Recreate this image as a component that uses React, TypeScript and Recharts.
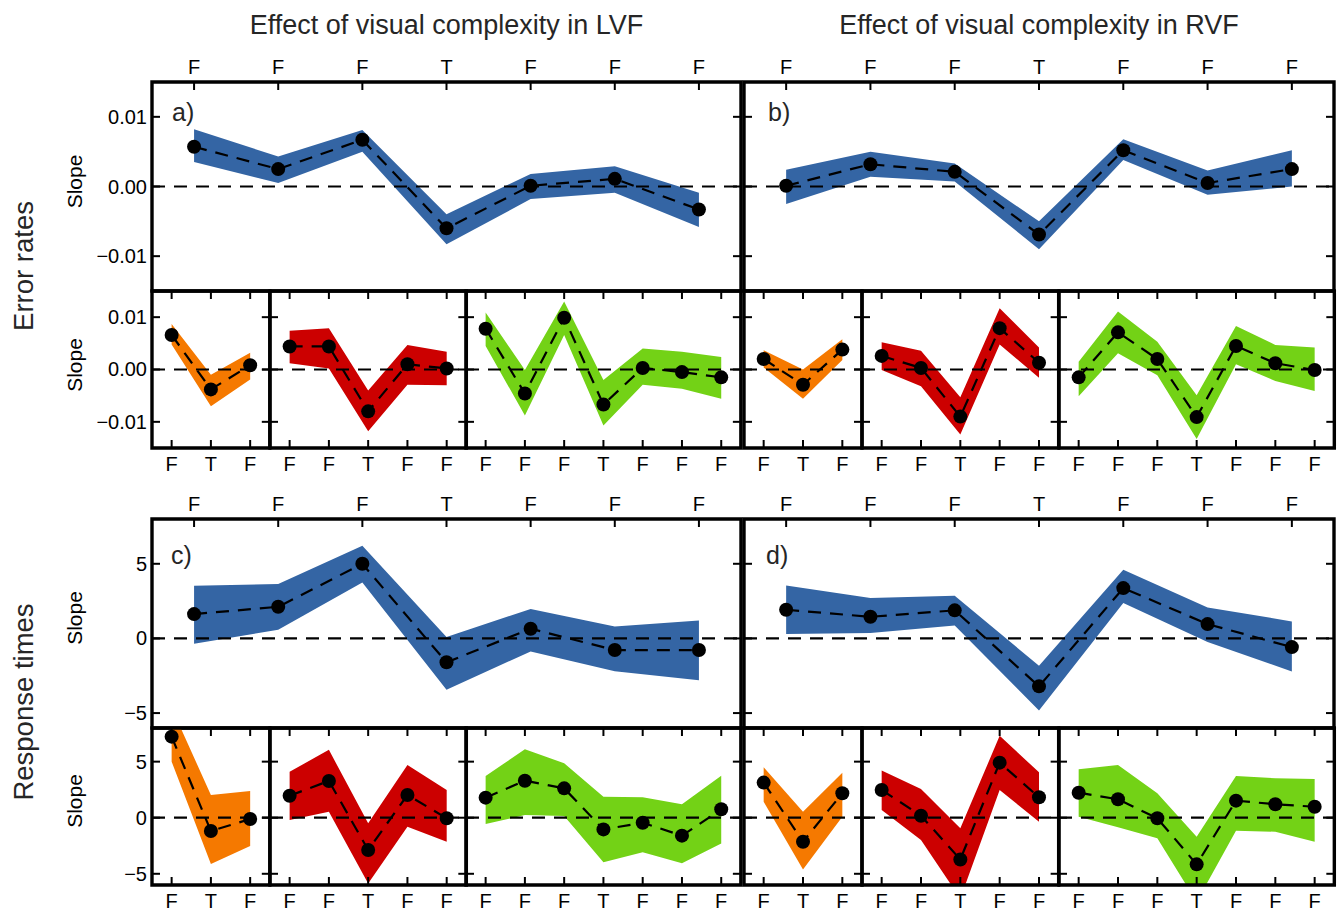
import React from 'react';
import { ComposedChart, Area, Line, XAxis, YAxis, ReferenceLine, ReferenceArea } from 'recharts';

const FONT = "'Liberation Sans', Arial, Helvetica, sans-serif";

const BLUE = '#3465a4';
const ORANGE = '#f57900';
const RED = '#cc0000';
const GREEN = '#73d216';

// tick labels (F / T)
const labels7 = ['F', 'F', 'F', 'T', 'F', 'F', 'F'];
const labels3 = ['F', 'T', 'F'];
const labels5 = ['F', 'F', 'T', 'F', 'F'];

// a) error rates, LVF
const errLvfMean = [0.0057, 0.0025, 0.0067, -0.006, 0.0001, 0.0011, -0.0033];
const errLvfLo = [0.0035, 0.0005, 0.005, -0.0083, -0.0018, -0.0009, -0.0058];
const errLvfHi = [0.0082, 0.0043, 0.0081, -0.004, 0.0018, 0.0029, -0.0009];

// b) error rates, RVF
const errRvfMean = [0.0001, 0.0032, 0.0021, -0.0069, 0.0052, 0.0005, 0.0025];
const errRvfLo = [-0.0025, 0.0014, 0.0007, -0.009, 0.0038, -0.0012, 0.0];
const errRvfHi = [0.0024, 0.005, 0.0033, -0.005, 0.0068, 0.0023, 0.0052];

// error rates, small panels LVF
const errLvfOrMean = [0.0066, -0.0038, 0.0008];
const errLvfOrLo = [0.0048, -0.007, -0.0019];
const errLvfOrHi = [0.0087, -0.001, 0.0032];
const errLvfRdMean = [0.0044, 0.0044, -0.008, 0.001, 0.0002];
const errLvfRdLo = [0.0012, 0.0002, -0.0118, -0.0029, -0.003];
const errLvfRdHi = [0.0074, 0.0079, -0.004, 0.0047, 0.0034];
const errLvfGrMean = [0.0078, -0.0046, 0.0099, -0.0067, 0.0003, -0.0005, -0.0015];
const errLvfGrLo = [0.0045, -0.0088, 0.0066, -0.0107, -0.0029, -0.0037, -0.0056];
const errLvfGrHi = [0.0109, -0.0001, 0.013, -0.002, 0.004, 0.0034, 0.0024];

// error rates, small panels RVF
const errRvfOrMean = [0.002, -0.0029, 0.0038];
const errRvfOrLo = [0.0004, -0.0056, 0.0018];
const errRvfOrHi = [0.0037, 0.0, 0.0058];
const errRvfRdMean = [0.0026, 0.0003, -0.009, 0.0079, 0.0013];
const errRvfRdLo = [-0.0001, -0.0032, -0.0124, 0.0048, -0.0016];
const errRvfRdHi = [0.0052, 0.0036, -0.0053, 0.0117, 0.0042];
const errRvfGrMean = [-0.0015, 0.0071, 0.002, -0.0091, 0.0045, 0.0012, -0.0001];
const errRvfGrLo = [-0.0051, 0.0031, -0.0011, -0.0133, 0.001, -0.0022, -0.0041];
const errRvfGrHi = [0.0015, 0.0111, 0.0053, -0.0049, 0.0083, 0.0047, 0.0042];

// c) response times, LVF
const rtLvfMean = [1.63, 2.12, 5.0, -1.6, 0.65, -0.78, -0.78];
const rtLvfLo = [-0.35, 0.58, 3.75, -3.43, -0.87, -2.2, -2.8];
const rtLvfHi = [3.53, 3.64, 6.2, 0.1, 1.97, 0.8, 1.2];

// d) response times, RVF
const rtRvfMean = [1.92, 1.45, 1.88, -3.21, 3.37, 0.96, -0.58];
const rtRvfLo = [0.3, 0.36, 0.87, -4.82, 2.37, -0.24, -2.21];
const rtRvfHi = [3.55, 2.7, 2.86, -1.83, 4.6, 2.08, 1.14];

// response times, small panels LVF
const rtLvfOrMean = [7.23, -1.19, -0.12];
const rtLvfOrLo = [5.0, -4.13, -2.53];
const rtLvfOrHi = [9.8, 2.03, 2.38];
const rtLvfRdMean = [1.96, 3.28, -2.88, 2.03, -0.05];
const rtLvfRdLo = [-0.2, 0.54, -5.86, -0.8, -2.14];
const rtLvfRdHi = [4.1, 6.05, -0.5, 4.7, 2.47];
const rtLvfGrMean = [1.79, 3.3, 2.62, -1.04, -0.45, -1.6, 0.75];
const rtLvfGrLo = [-0.56, 0.24, 0.15, -3.98, -3.09, -4.07, -2.29];
const rtLvfGrHi = [3.72, 6.1, 4.85, 1.88, 1.82, 1.2, 3.75];

// response times, small panels RVF
const rtRvfOrMean = [3.13, -2.14, 2.18];
const rtRvfOrLo = [1.43, -4.61, 0.09];
const rtRvfOrHi = [4.5, 0.54, 4.02];
const rtRvfRdMean = [2.47, 0.18, -3.72, 4.91, 1.82];
const rtRvfRdLo = [0.69, -1.99, -7.2, 2.47, -0.36];
const rtRvfRdHi = [4.2, 2.56, -0.95, 7.3, 4.05];
const rtRvfGrMean = [2.23, 1.64, -0.05, -4.16, 1.52, 1.2, 0.98];
const rtRvfGrLo = [0.09, -0.86, -1.84, -7.5, -1.16, -1.25, -2.14];
const rtRvfGrHi = [4.32, 4.7, 2.18, -1.7, 3.72, 3.52, 3.46];

const errDomain: [number, number] = [-0.015, 0.015];
const errTicks = [-0.01, 0, 0.01];
const rtDomain: [number, number] = [-6, 8];
const rtTicks = [-5, 0, 5];

// layout (page pixels)
const LVF: [number, number] = [152, 741];
const RVF: [number, number] = [744, 1334];
const ERR_BIG: [number, number] = [82, 291];
const ERR_SMALL: [number, number] = [291, 448];
const RT_BIG: [number, number] = [519, 728];
const RT_SMALL: [number, number] = [728, 885];

const PAD = 80;
const AX = 30;
const TICK = 8;

const fmtErr = (v: number) => (v === 0 ? '0.00' : (v < 0 ? '\u2212' : '') + Math.abs(v).toFixed(2));
const fmtRt = (v: number) => (v === 0 ? '0' : (v < 0 ? '\u2212' : '') + String(Math.abs(v)));

function split(x: [number, number]) {
  const u = (x[1] - x[0]) / 15;
  return [x[0], x[0] + 3 * u, x[0] + 8 * u, x[1]];
}

type PanelProps = {
  xs: [number, number];
  ys: [number, number];
  labels: string[];
  mean: number[];
  lo: number[];
  hi: number[];
  color: string;
  yDomain: [number, number];
  yTicks: number[];
  yFmt: (v: number) => string;
  showY: boolean;
  big: boolean;
};

function Panel({ xs, ys, labels, mean, lo, hi, color, yDomain, yTicks, yFmt, showY, big }: PanelProps) {
  const w = xs[1] - xs[0];
  const h = ys[1] - ys[0];
  const n = mean.length;
  const data = mean.map((m, i) => ({ i, m, r: [lo[i], hi[i]] }));
  const idx = mean.map((_, i) => i);

  const tickTop = (p: any) => (
    <g>
      <line x1={p.x} y1={p.y} x2={p.x} y2={p.y + TICK} stroke="#000" strokeWidth={2} />
      {big && (
        <text x={p.x} y={p.y - 8} textAnchor="middle" fontSize={20} fontFamily={FONT} fill="#000">
          {labels[p.payload.value]}
        </text>
      )}
    </g>
  );
  const tickBottom = (p: any) => (
    <g>
      <line x1={p.x} y1={p.y} x2={p.x} y2={p.y - TICK} stroke="#000" strokeWidth={2} />
      <text x={p.x} y={p.y + 23} textAnchor="middle" fontSize={20} fontFamily={FONT} fill="#000">
        {labels[p.payload.value]}
      </text>
    </g>
  );
  const tickLeft = (p: any) => (
    <g>
      <line x1={p.x} y1={p.y} x2={p.x + TICK} y2={p.y} stroke="#000" strokeWidth={2} />
      {showY && (
        <text x={p.x - 5} y={p.y + 7} textAnchor="end" fontSize={20} fontFamily={FONT} fill="#000">
          {yFmt(p.payload.value)}
        </text>
      )}
    </g>
  );
  const tickRight = (p: any) => (
    <g>
      <line x1={p.x} y1={p.y} x2={p.x - TICK} y2={p.y} stroke="#000" strokeWidth={2} />
    </g>
  );

  return (
    <div style={{ position: 'absolute', left: xs[0] - PAD, top: ys[0] - PAD }}>
      <ComposedChart
        width={w + 2 * PAD}
        height={h + 2 * PAD}
        data={data}
        margin={{ top: PAD - AX, right: PAD - AX, bottom: PAD - AX, left: PAD - AX }}
      >
        <XAxis
          xAxisId="b"
          orientation="bottom"
          type="number"
          dataKey="i"
          domain={[-0.5, n - 0.5]}
          allowDataOverflow
          ticks={idx}
          interval={0}
          height={AX}
          tickSize={0}
          tickMargin={0}
          axisLine={false}
          tickLine={false}
          tick={big ? false : tickBottom}
        />
        <XAxis
          xAxisId="t"
          orientation="top"
          type="number"
          dataKey="i"
          domain={[-0.5, n - 0.5]}
          allowDataOverflow
          ticks={idx}
          interval={0}
          height={AX}
          tickSize={0}
          tickMargin={0}
          axisLine={false}
          tickLine={false}
          tick={tickTop}
        />
        <YAxis
          yAxisId="l"
          orientation="left"
          type="number"
          domain={yDomain}
          allowDataOverflow
          ticks={yTicks}
          interval={0}
          width={AX}
          tickSize={0}
          tickMargin={0}
          axisLine={false}
          tickLine={false}
          tick={tickLeft}
        />
        <YAxis
          yAxisId="r"
          orientation="right"
          type="number"
          domain={yDomain}
          allowDataOverflow
          ticks={yTicks}
          interval={0}
          width={AX}
          tickSize={0}
          tickMargin={0}
          axisLine={false}
          tickLine={false}
          tick={tickRight}
        />
        <Area
          xAxisId="b"
          yAxisId="l"
          dataKey="r"
          type="linear"
          fill={color}
          fillOpacity={1}
          stroke="none"
          isAnimationActive={false}
        />
        <ReferenceLine xAxisId="b" yAxisId="l" y={0} stroke="#000" strokeWidth={2.2} strokeDasharray="13 9" />
        <Line
          xAxisId="b"
          yAxisId="l"
          dataKey="m"
          type="linear"
          stroke="#000"
          strokeWidth={2.2}
          strokeDasharray="13 9"
          dot={{ r: 7, fill: '#000', stroke: 'none' }}
          isAnimationActive={false}
        />
        <ReferenceArea
          xAxisId="b"
          yAxisId="l"
          x1={-0.5}
          x2={n - 0.5}
          y1={yDomain[0]}
          y2={yDomain[1]}
          ifOverflow="visible"
          fill="none"
          fillOpacity={0}
          stroke="#000"
          strokeOpacity={1}
          strokeWidth={3.4}
        />
      </ComposedChart>
    </div>
  );
}

function SmallRow({ xs, ys, groups, yDomain, yTicks, yFmt, showFirstY }: any) {
  const b = split(xs);
  const colors = [ORANGE, RED, GREEN];
  const labs = [labels3, labels5, labels7];
  return (
    <>
      {groups.map((g: any, k: number) => (
        <Panel
          key={k}
          xs={[b[k], b[k + 1]]}
          ys={ys}
          labels={labs[k]}
          mean={g[0]}
          lo={g[1]}
          hi={g[2]}
          color={colors[k]}
          yDomain={yDomain}
          yTicks={yTicks}
          yFmt={yFmt}
          showY={showFirstY && k === 0}
          big={false}
        />
      ))}
    </>
  );
}

function Rot({ x, y, size, children, fill = '#000' }: any) {
  return (
    <text
      transform={`translate(${x},${y}) rotate(-90)`}
      textAnchor="middle"
      fontSize={size}
      fontFamily={FONT}
      fill={fill}
    >
      {children}
    </text>
  );
}

export default function App() {
  return (
    <div style={{ position: 'absolute', left: 0, top: 0, width: 1338, height: 908, background: '#fff', overflow: 'hidden', fontFamily: FONT }}>
      <Panel xs={LVF} ys={ERR_BIG} labels={labels7} mean={errLvfMean} lo={errLvfLo} hi={errLvfHi} color={BLUE}
        yDomain={errDomain} yTicks={errTicks} yFmt={fmtErr} showY big />
      <Panel xs={RVF} ys={ERR_BIG} labels={labels7} mean={errRvfMean} lo={errRvfLo} hi={errRvfHi} color={BLUE}
        yDomain={errDomain} yTicks={errTicks} yFmt={fmtErr} showY={false} big />
      <SmallRow xs={LVF} ys={ERR_SMALL} yDomain={errDomain} yTicks={errTicks} yFmt={fmtErr} showFirstY
        groups={[[errLvfOrMean, errLvfOrLo, errLvfOrHi], [errLvfRdMean, errLvfRdLo, errLvfRdHi], [errLvfGrMean, errLvfGrLo, errLvfGrHi]]} />
      <SmallRow xs={RVF} ys={ERR_SMALL} yDomain={errDomain} yTicks={errTicks} yFmt={fmtErr} showFirstY={false}
        groups={[[errRvfOrMean, errRvfOrLo, errRvfOrHi], [errRvfRdMean, errRvfRdLo, errRvfRdHi], [errRvfGrMean, errRvfGrLo, errRvfGrHi]]} />

      <Panel xs={LVF} ys={RT_BIG} labels={labels7} mean={rtLvfMean} lo={rtLvfLo} hi={rtLvfHi} color={BLUE}
        yDomain={rtDomain} yTicks={rtTicks} yFmt={fmtRt} showY big />
      <Panel xs={RVF} ys={RT_BIG} labels={labels7} mean={rtRvfMean} lo={rtRvfLo} hi={rtRvfHi} color={BLUE}
        yDomain={rtDomain} yTicks={rtTicks} yFmt={fmtRt} showY={false} big />
      <SmallRow xs={LVF} ys={RT_SMALL} yDomain={rtDomain} yTicks={rtTicks} yFmt={fmtRt} showFirstY
        groups={[[rtLvfOrMean, rtLvfOrLo, rtLvfOrHi], [rtLvfRdMean, rtLvfRdLo, rtLvfRdHi], [rtLvfGrMean, rtLvfGrLo, rtLvfGrHi]]} />
      <SmallRow xs={RVF} ys={RT_SMALL} yDomain={rtDomain} yTicks={rtTicks} yFmt={fmtRt} showFirstY={false}
        groups={[[rtRvfOrMean, rtRvfOrLo, rtRvfOrHi], [rtRvfRdMean, rtRvfRdLo, rtRvfRdHi], [rtRvfGrMean, rtRvfGrLo, rtRvfGrHi]]} />

      <svg width={1338} height={908} style={{ position: 'absolute', left: 0, top: 0, pointerEvents: 'none' }}>
        <text x={446.5} y={34} textAnchor="middle" fontSize={27} fontFamily={FONT} fill="#262626">
          Effect of visual complexity in LVF
        </text>
        <text x={1039} y={34} textAnchor="middle" fontSize={27} fontFamily={FONT} fill="#262626">
          Effect of visual complexity in RVF
        </text>
        <Rot x={33} y={266} size={27.5} fill="#262626">Error rates</Rot>
        <Rot x={33} y={702} size={27.5} fill="#262626">Response times</Rot>
        <Rot x={82} y={181.5} size={21}>Slope</Rot>
        <Rot x={82} y={365} size={21}>Slope</Rot>
        <Rot x={82} y={618} size={21}>Slope</Rot>
        <Rot x={82} y={801} size={21}>Slope</Rot>
        <text x={172} y={121} fontSize={25} fontFamily={FONT} fill="#262626">a)</text>
        <text x={768} y={121} fontSize={25} fontFamily={FONT} fill="#262626">b)</text>
        <text x={171} y={564} fontSize={25} fontFamily={FONT} fill="#262626">c)</text>
        <text x={766} y={564} fontSize={25} fontFamily={FONT} fill="#262626">d)</text>
      </svg>
    </div>
  );
}
